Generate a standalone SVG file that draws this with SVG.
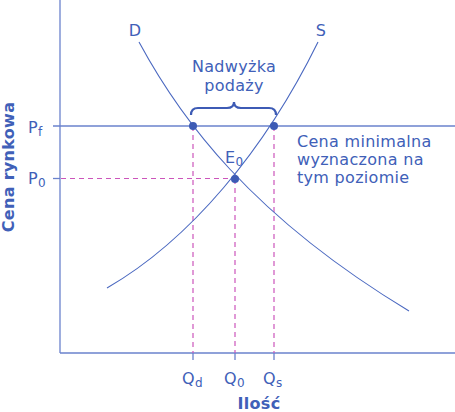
<svg xmlns="http://www.w3.org/2000/svg" width="455" height="412" viewBox="0 0 455 412">
<style>
text{font-family:"DejaVu Sans",Verdana,sans-serif;fill:#4060B8;font-size:16px;letter-spacing:0.3px}
.b{font-weight:bold}
.sub{font-size:12px}
.ax{stroke:#6A82CC;stroke-width:1.3;fill:none}
.cv{stroke:#4A68C0;stroke-width:1.1;fill:none}
.dash{stroke:#CC55BB;stroke-width:1.2;stroke-dasharray:5,4;fill:none}
.pt{fill:#3D5BB5}
</style>
<rect width="455" height="412" fill="#fff"/>
<g id="axes">
<line class="ax" x1="60" y1="0" x2="60" y2="353"/>
<line class="ax" x1="60" y1="353" x2="455" y2="353"/>
<line class="ax" x1="53" y1="126" x2="455" y2="126"/>
<line class="ax" x1="53" y1="178.5" x2="60" y2="178.5"/>
<line class="ax" x1="193" y1="353" x2="193" y2="360"/>
<line class="ax" x1="235" y1="353" x2="235" y2="360"/>
<line class="ax" x1="274" y1="353" x2="274" y2="360"/>
</g>
<g id="connectors">
<line class="dash" x1="61" y1="178.5" x2="235" y2="178.5"/>
<line class="dash" x1="193" y1="126" x2="193" y2="353"/>
<line class="dash" x1="235" y1="179" x2="235" y2="353"/>
<line class="dash" x1="274" y1="126" x2="274" y2="353"/>
</g>
<g id="demand">
<path class="cv" d="M139,42 C180,118 250,215 409,311"/>
<text x="135" y="36" text-anchor="middle">D</text>
</g>
<g id="supply">
<path class="cv" d="M107,288 C190,240 265,150 318,42"/>
<text x="321" y="36" text-anchor="middle">S</text>
</g>
<g id="surplus">
<path d="M191,115 Q191,108 198,108 L227,108 Q234,108 234,102 Q234,108 241,108 L269,108 Q276,108 276,115" fill="none" stroke="#3D5BB5" stroke-width="2.2"/>
<text x="234" y="72" text-anchor="middle">Nadwyżka</text>
<text x="234" y="91" text-anchor="middle">podaży</text>
</g>
<g id="points">
<circle class="pt" cx="193" cy="126" r="4"/>
<circle class="pt" cx="274" cy="126" r="4"/>
<circle class="pt" cx="235" cy="179" r="4"/>
<text x="225" y="163">E<tspan class="sub" dy="3">0</tspan></text>
</g>
<g id="labels">
<text x="28" y="133">P<tspan class="sub" dy="3">f</tspan></text>
<text x="28" y="184">P<tspan class="sub" dy="3">0</tspan></text>
<text x="297" y="147">Cena minimalna</text>
<text x="297" y="165">wyznaczona na</text>
<text x="297" y="183">tym poziomie</text>
<text x="182" y="384">Q<tspan class="sub" dy="3">d</tspan></text>
<text x="224" y="384">Q<tspan class="sub" dy="3">0</tspan></text>
<text x="263" y="384">Q<tspan class="sub" dy="3">s</tspan></text>
<text class="b" x="259" y="409" text-anchor="middle">Ilość</text>
<text class="b" transform="translate(14,167) rotate(-90)" text-anchor="middle">Cena rynkowa</text>
</g>
</svg>
